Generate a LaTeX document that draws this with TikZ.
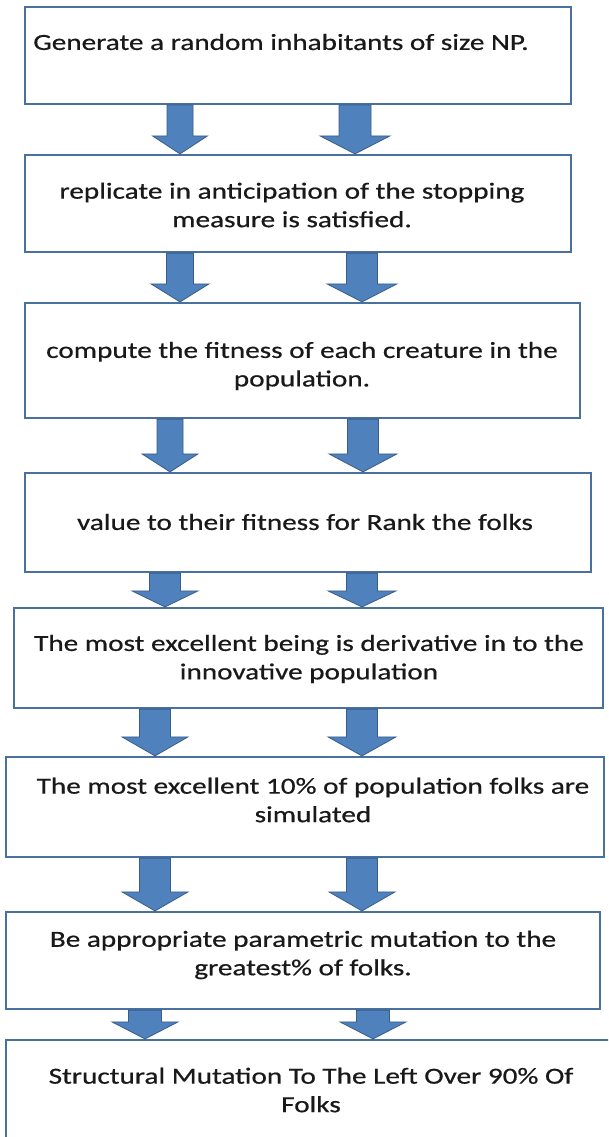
\documentclass[tikz,border=0pt]{standalone}
\usepackage{fontspec}
\setmainfont{Carlito}[FakeStretch=1.27,FakeBold=0.6]
\usetikzlibrary{calc}
\definecolor{boxline}{RGB}{74,112,160}
\definecolor{arrfill}{RGB}{79,129,189}
\definecolor{arrline}{RGB}{56,93,138}
\tikzset{
  stepbox/.style={draw=boxline, line width=2.2pt, fill=white, inner sep=0pt},
  boxtext/.style={align=center, text=black!90, font=\fontsize{23}{28.5}\selectfont, inner sep=0pt},
  barrow/.style={fill=arrfill, draw=arrline, line width=0.8pt, line join=miter}
}
% #1 from node, #2 to node, #3 centre x, #4 half shaft, #5 half head, #6 head length
\newcommand\blockarr[6]{%
  \draw[barrow] let \p1=(#1.south), \p2=(#2.north) in
    ({(#3-#4)*1pt},\y1) -- ({(#3+#4)*1pt},\y1) -- ({(#3+#4)*1pt},{\y2+#6*1pt})
    -- ({(#3+#5)*1pt},{\y2+#6*1pt}) -- ({#3*1pt},\y2) -- ({(#3-#5)*1pt},{\y2+#6*1pt})
    -- ({(#3-#4)*1pt},{\y2+#6*1pt}) -- cycle;}
\begin{document}
\begin{tikzpicture}[x=1pt,y=-1pt]
\clip (0,0) rectangle (608,1137);
\fill[white] (0,0) rectangle (608,1137);
% boxes
\node[stepbox, minimum width=546pt, minimum height=97pt] (b1) at (298,55.5) {};
\node[stepbox, minimum width=546pt, minimum height=97pt] (b2) at (298,203.5) {};
\node[stepbox, minimum width=555pt, minimum height=115pt] (b3) at (302.5,360.5) {};
\node[stepbox, minimum width=566pt, minimum height=99pt] (b4) at (308,522.5) {};
\node[stepbox, minimum width=589pt, minimum height=100pt] (b5) at (308.5,658) {};
\node[stepbox, minimum width=598pt, minimum height=100pt] (b6) at (305,807) {};
\node[stepbox, minimum width=594pt, minimum height=97pt] (b7) at (303,960.5) {};
\node[stepbox, minimum width=606pt, minimum height=104pt] (b8) at (309,1092) {};
% texts
\node[boxtext] (t1) at (281,42) {Generate a random inhabitants of size NP.};
\node[boxtext] (t2) at (292,205) {replicate in anticipation of the stopping\\measure is satisfied.};
\node[boxtext] (t3) at (302,366) {compute the fitness of each creature in the\\population.};
\node[boxtext] (t4) at (305,522) {value to their fitness for Rank the folks};
\node[boxtext] (t5) at (309,659) {The most excellent being is derivative in to the\\innovative population};
\node[boxtext] (t6) at (313,800) {The most excellent 10\% of population folks are\\simulated};
\node[boxtext] (t7) at (303,955) {Be appropriate parametric mutation to the\\greatest\% of folks.};
\node[boxtext] (t8) at (311,1090) {Structural Mutation To The Left Over 90\% Of\\Folks};
% block arrows
\blockarr{b1}{b2}{180}{13}{27.5}{18}
\blockarr{b1}{b2}{355}{16}{35}{18}
\blockarr{b2}{b3}{180}{13.5}{29}{18}
\blockarr{b2}{b3}{362}{15.5}{35}{18}
\blockarr{b3}{b4}{170}{13}{28}{18}
\blockarr{b3}{b4}{363}{15.5}{34}{18}
\blockarr{b4}{b5}{165}{15.5}{33}{16}
\blockarr{b4}{b5}{362}{15.5}{34}{16}
\blockarr{b5}{b6}{155}{15.5}{33}{19}
\blockarr{b5}{b6}{362}{15.5}{34}{19}
\blockarr{b6}{b7}{155}{15.5}{33}{19}
\blockarr{b6}{b7}{362}{15.5}{33}{19}
\blockarr{b7}{b8}{145}{16.5}{33}{17}
\blockarr{b7}{b8}{373}{16.5}{33}{17}
\end{tikzpicture}
\end{document}
